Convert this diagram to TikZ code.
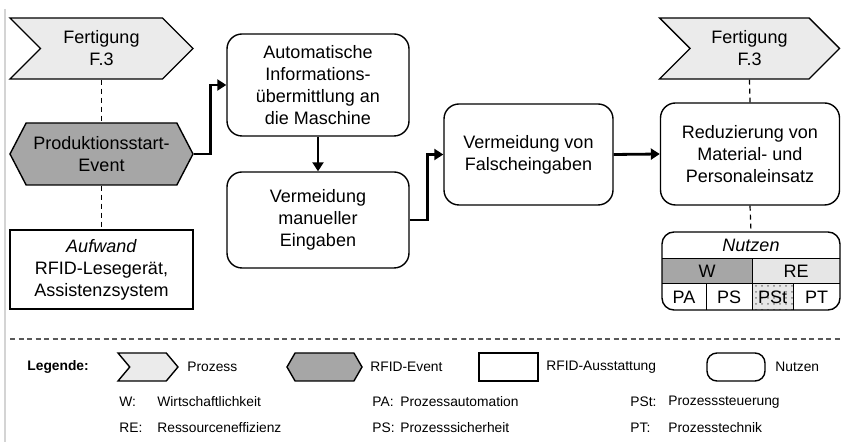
\documentclass[tikz,border=0pt]{standalone}
\usepackage{fontspec}
\setmainfont{Liberation Sans}
\usetikzlibrary{shapes.symbols,arrows.meta,patterns}
\definecolor{procfill}{HTML}{EBEBEB}
\definecolor{eventfill}{HTML}{A6A6A6}
\definecolor{cellfill}{HTML}{E6E6E6}
\definecolor{sepline}{HTML}{595959}
\definecolor{pageline}{HTML}{D4D4D4}
\tikzset{
  txt/.style={font=\fontsize{9}{11}\selectfont, align=center, inner sep=0pt},
  prozess/.style={txt, signal, signal from=west, signal to=east, signal pointer angle=90, draw, line width=0.7pt, fill=procfill},
  event/.style={txt, signal, signal to=east and west, signal pointer angle=125, draw, line width=0.7pt, fill=eventfill},
  ausstattung/.style={txt, rectangle, draw, line width=0.65pt},
  nutzen/.style={txt, rectangle, rounded corners=7.5pt, draw, line width=0.7pt},
  flow/.style={line width=1.4pt, -{Triangle[length=4.5pt,width=5.5pt]}},
  link/.style={line width=0.6pt, dash pattern=on 2.5pt off 2pt},
  leg/.style={font=\fontsize{6.9}{8}\selectfont, inner sep=0pt, anchor=west},
}

\begin{document}
\begin{tikzpicture}[x=0.5pt,y=-0.5pt]
\useasboundingbox (0,0) rectangle (841,442);
\draw[pageline, line width=0.6pt] (5,9) -- (5,442);

% Prozesskette
\node[prozess, minimum width=91.5pt, minimum height=30.5pt] (pro1) at (101.5,48.5) {Fertigung\\F.3};
\node[event, minimum width=91.5pt, minimum height=31pt] (evt) at (101.5,154) {Produktionsstart-\\Event};
\node[ausstattung, minimum width=91.5pt, minimum height=39.5pt] (auf) at (101.5,269.5) {\textit{Aufwand}\\RFID-Lesegerät,\\Assistenzsystem};
\node[nutzen, minimum width=91pt, minimum height=51pt] (aut) at (318,85) {Automatische\\Informations-\\übermittlung an\\die Maschine};
\node[nutzen, minimum width=91pt, minimum height=48pt] (man) at (318,220) {Vermeidung\\manueller\\Eingaben};
\node[nutzen, minimum width=84.5pt, minimum height=50.5pt] (fal) at (528.5,154.5) {Vermeidung von\\Falscheingaben};
\node[nutzen, minimum width=89.5pt, minimum height=51pt] (red) at (750,154) {Reduzierung von\\Material- und\\Personaleinsatz};
\node[prozess, minimum width=90pt, minimum height=30.5pt] (pro2) at (749.5,48.5) {Fertigung\\F.3};

% Nutzen-Tabelle
\begin{scope}
\clip[rounded corners=6pt] (662,232) rectangle (840,310);
\fill[eventfill] (662,259) rectangle (752,284);
\fill[cellfill] (752,259) rectangle (840,284);
\fill[cellfill] (752,284) rectangle (793,310);
\fill[pattern=dots, pattern color=gray] (752,284) rectangle (793,310);
\end{scope}
\draw[line width=0.7pt, rounded corners=6pt] (662,232) rectangle (840,310);
\draw[line width=0.5pt] (662,259) -- (840,259) (662,284) -- (840,284)
  (752,259) -- (752,310) (706,284) -- (706,310) (793,284) -- (793,310);
\node[txt, minimum width=89pt, minimum height=13.5pt] (nutz) at (751,245.5) {\textit{Nutzen}};
\node[txt] (w) at (707,271.5) {W};
\node[txt] (re) at (796,271.5) {RE};
\node[txt] (pa) at (684,297) {PA};
\node[txt] (ps) at (729,297) {PS};
\node[txt] (pst) at (772.5,297) {PSt};
\node[txt] (pt) at (816.5,297) {PT};

\draw[flow] (evt.east) -- ++(17,0) |- (aut.west);
\draw[flow] (aut.south) -- (man.north);
\draw[flow] (man.east) -- ++(18,0) |- (fal.west);
\draw[flow] (fal.east) -- (red.west);
\draw[link] (pro1.south) -- (evt.north);
\draw[link] (evt.south) -- (auf.north);
\draw[link] (pro2.south) -- (red.north);
\draw[link] (red.south) -- (nutz.north);

% Legende
\draw[sepline, line width=0.7pt, dash pattern=on 2.5pt off 1.75pt] (10,339) -- (841,339);
\node[leg, font=\fontsize{6.9}{8}\selectfont\bfseries] (legtitle) at (27,367) {Legende:};
\node[prozess, minimum width=30pt, minimum height=14pt, signal pointer angle=100] (lpro) at (148,367) {};
\node[leg] (lprot) at (187,367) {Prozess};
\node[event, minimum width=37.5pt, minimum height=14pt, signal pointer angle=120] (levt) at (324.5,367) {};
\node[leg] (levtt) at (370,367) {RFID-Event};
\node[ausstattung, minimum width=29.5pt, minimum height=14pt] (laus) at (508.5,367) {};
\node[leg] (laust) at (546,367) {RFID-Ausstattung};
\node[nutzen, minimum width=29pt, minimum height=14pt, rounded corners=5pt] (lnut) at (736,367) {};
\node[leg] (lnutt) at (775,367) {Nutzen};

\foreach \k/\x/\y/\n in {W:/119/402/a, RE:/119/428/b, PA:/372/402/c,
  PS:/372/428/d, PSt:/630/402/e, PT:/630/428/f} {
  \node[leg] (abk\n) at (\x,\y) {\k};
}
\node[leg] (erka) at (157,402) {Wirtschaftlichkeit};
\node[leg] (erkb) at (157,428) {Ressourceneffizienz};
\node[leg] (erkc) at (400,402) {Prozessautomation};
\node[leg] (erkd) at (400,428) {Prozesssicherheit};
\node[leg] (erke) at (668,402) {Prozesssteuerung};
\node[leg] (erkf) at (668,428) {Prozesstechnik};
\end{tikzpicture}
\end{document}
